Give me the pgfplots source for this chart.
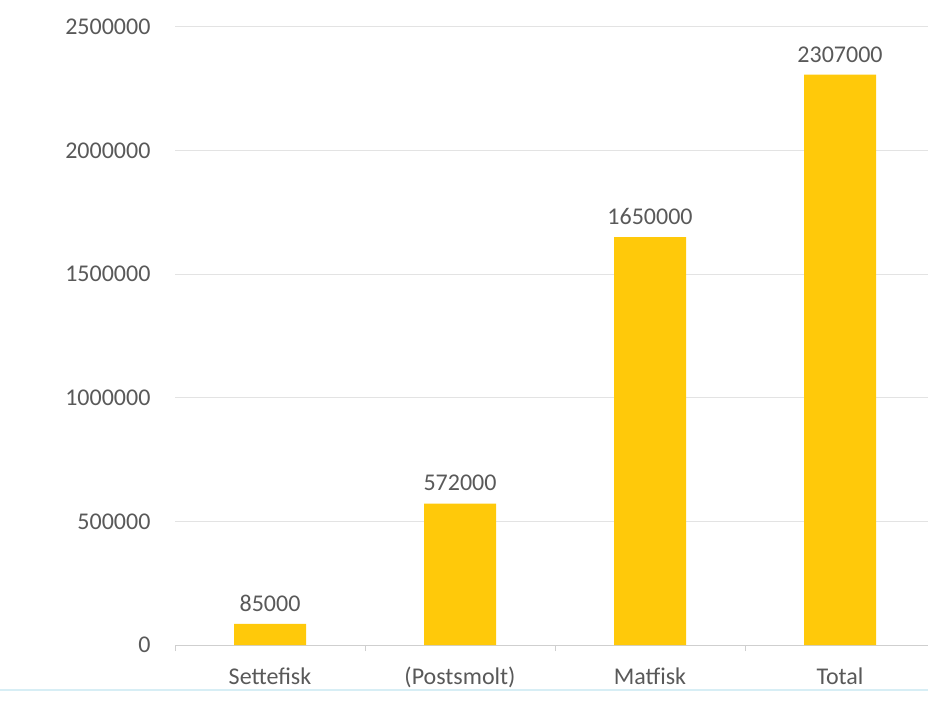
\documentclass[border=0pt]{standalone}
\usepackage{pgfplots}
\pgfplotsset{compat=1.18}
\usepackage{fontspec}
\setmainfont{Carlito}
\definecolor{barc}{HTML}{FFC90A}
\definecolor{txt}{HTML}{595959}
\definecolor{gridc}{HTML}{E3E3E3}
\begin{document}
\begin{tikzpicture}[x=1pt,y=1pt]
\useasboundingbox (0,0) rectangle (928,705);
\draw[color={rgb,255:red,215;green,238;blue,245}, line width=1.5pt] (0,15) -- (928,15);
\begin{axis}[
  at={(175pt,60pt)}, anchor=south west,
  scale only axis, width=760pt, height=618pt,
  xmin=-0.5, xmax=3.5, ymin=0, ymax=2500000,
  ybar, bar width=72pt,
  xtick={-0.5,0.5,1.5,2.5,3.5},
  xticklabels={},
  extra x ticks={0,1,2,3},
  extra x tick labels={Settefisk,(Postsmolt),Matfisk,Total},
  extra x tick style={major tick length=0pt, grid=none},
  ytick={0,500000,1000000,1500000,2000000,2500000},
  scaled y ticks=false,
  /pgf/number format/.cd, fixed, 1000 sep={}, assume math mode=true, /pgfplots/.cd,
  ymajorgrids, grid style={gridc, line width=1pt},
  axis x line*=bottom, axis y line*=left,
  y axis line style={draw=none},
  x axis line style={draw=gridc!80!gray, line width=1pt, -},
  ytick style={draw=none},
  xtick style={draw=gridc!80!gray, line width=1pt},
  major tick length=6pt, tick align=outside,
  tick label style={font=\fontsize{24}{28}\selectfont, text=txt},
  yticklabel style={xshift=-15pt},
  xticklabel style={yshift=-19pt, text height=17pt, text depth=5pt},
  nodes near coords,
  nodes near coords style={font=\fontsize{24}{28}\selectfont, text=txt, yshift=9pt, /pgf/number format/fixed, /pgf/number format/1000 sep={}},
  clip=false,
]
\addplot[fill=barc, draw=none] coordinates {(0,85000) (1,572000) (2,1650000) (3,2307000)};
\end{axis}
\end{tikzpicture}
\end{document}
